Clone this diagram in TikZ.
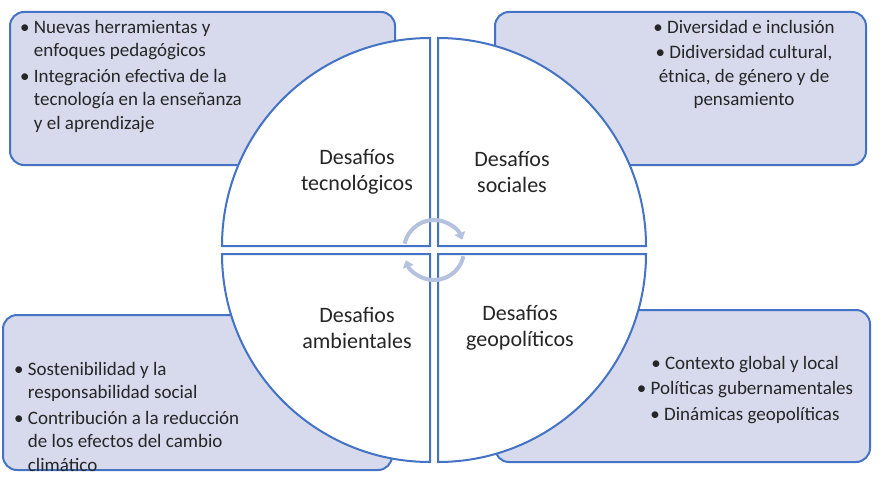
\documentclass[tikz,border=0pt]{standalone}
\usepackage{fontspec}
\setmainfont{Carlito}
\usetikzlibrary{arrows.meta}
\definecolor{bl}{HTML}{4472C4}
\definecolor{lav}{HTML}{D6DAEC}
\definecolor{arr}{HTML}{B4C2E0}
\tikzset{
 box/.style={draw=bl,line width=2pt,fill=lav,rounded corners=14pt},
 quad/.style={draw=bl,line width=2pt,fill=white},
 lbl/.style={align=center,font=\fontsize{22}{26}\selectfont,text=black!85},
 txt/.style={font=\fontsize{19}{23.5}\selectfont,text=black!85,inner sep=0pt},
 carrow/.style={draw=arr,line width=4pt,-{Triangle[length=7pt,width=11pt]}}
}
\begin{document}
\begin{tikzpicture}[x=1pt,y=-1pt]
\useasboundingbox (0,0) rectangle (882,484);
\draw[box] (10,12) rectangle (395,165);
\draw[box] (495,12) rectangle (866,165);
\draw[box] (3,315) rectangle (392,470);
\draw[box] (495,310) rectangle (870,462);
\def\R{208}
\draw[quad] (430,246) -- ++(-\R,0) arc[start angle=180,end angle=270,radius=\R] -- cycle;
\draw[quad] (438,246) -- ++(0,-\R) arc[start angle=270,end angle=360,radius=\R] -- cycle;
\draw[quad] (430,254) -- ++(-\R,0) arc[start angle=180,end angle=90,radius=\R] -- cycle;
\draw[quad] (438,254) -- ++(0,\R) arc[start angle=90,end angle=0,radius=\R] -- cycle;
\coordinate (c) at (434,250);
\draw[carrow] ([shift={(192:30)}]c) arc[start angle=192,end angle=340,radius=30];
\draw[carrow] ([shift={(12:30)}]c) arc[start angle=12,end angle=160,radius=30];
\node[lbl] (q1) at (357,172) {Desafíos\\tecnológicos};
\node[lbl] (q2) at (512,172) {Desafíos\\sociales};
\node[lbl] (q3) at (357,328) {Desafios\\ambientales};
\node[lbl] (q4) at (520,328) {Desafíos\\geopolíticos};
\node[txt,anchor=north west,align=left] (t1) at (20,20) {%
\textbullet\ Nuevas herramientas y\\\phantom{\textbullet\ }enfoques pedagógicos\\[2pt]
\textbullet\ Integración efectiva de la\\\phantom{\textbullet\ }tecnología en la enseñanza\\\phantom{\textbullet\ }y el aprendizaje};
\node[txt,anchor=north,align=center] (t2) at (744,20) {%
\textbullet\ Diversidad e inclusión\\[2pt]
\textbullet\ Didiversidad cultural,\\étnica, de género y de\\pensamiento};
\node[txt,anchor=north west,align=left] (t3) at (14,362) {%
\textbullet\ Sostenibilidad y la\\\phantom{\textbullet\ }responsabilidad social\\[2pt]
\textbullet\ Contribución a la reducción\\\phantom{\textbullet\ }de los efectos del cambio\\\phantom{\textbullet\ }climático};
\node[txt,anchor=north,align=center] (t4) at (745,356) {%
\textbullet\ Contexto global y local\\[2pt]
\textbullet\ Políticas gubernamentales\\[2pt]
\textbullet\ Dinámicas geopolíticas};
\end{tikzpicture}
\end{document}
